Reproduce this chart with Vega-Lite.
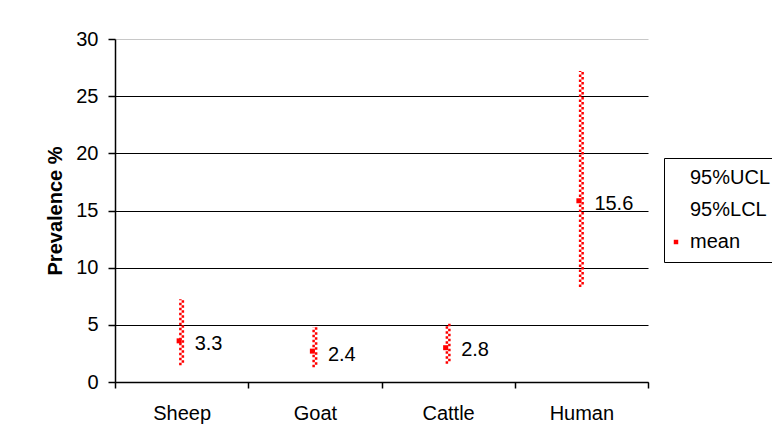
{
  "$schema": "https://vega.github.io/schema/vega-lite/v6.json",
  "width": 533,
  "height": 343,
  "autosize": {"type": "none"},
  "padding": {"left": 115, "top": 39, "right": 124, "bottom": 59},
  "background": "white",
  "config": {
    "font": "Liberation Sans",
    "view": {"stroke": null},
    "axis": {"labelColor": "black", "titleColor": "black", "domainColor": "black", "tickColor": "black", "labelFont": "Liberation Sans", "titleFont": "Liberation Sans"}
  },
  "data": {
    "values": [
      {"animal": "Sheep", "lcl": 1.46, "ucl": 7.24, "mean": 3.6, "label": 3.3},
      {"animal": "Goat", "lcl": 1.3, "ucl": 4.8, "mean": 2.7, "label": 2.4},
      {"animal": "Cattle", "lcl": 1.6, "ucl": 5.1, "mean": 3.0, "label": 2.8},
      {"animal": "Human", "lcl": 8.3, "ucl": 27.2, "mean": 15.85, "label": 15.6}
    ]
  },
  "encoding": {
    "x": {
      "field": "animal",
      "type": "nominal",
      "sort": null,
      "scale": {"paddingInner": 0, "paddingOuter": 0},
      "axis": {
        "title": null,
        "labelAngle": 0,
        "labelFontSize": 20,
        "labelPadding": 15,
        "tickBand": "extent",
        "tickSize": 6,
        "grid": false,
        "domainWidth": 1.5,
        "tickWidth": 1.5
      }
    }
  },
  "layer": [
    {
      "mark": {"type": "rule", "color": "red", "strokeWidth": 2.5, "strokeDash": [2.5, 2.5], "xOffset": -1.25},
      "encoding": {
        "y": {
          "field": "lcl",
          "type": "quantitative",
          "scale": {"domain": [0, 30], "nice": false},
          "axis": {
            "title": "Prevalence %",
            "titleFontSize": 20,
            "titleFontWeight": "bold",
            "titlePadding": 10,
            "values": [0, 5, 10, 15, 20, 25, 30],
            "labelFontSize": 20,
            "labelPadding": 10,
            "tickSize": 7,
            "tickWidth": 1.5,
            "domainWidth": 1.5,
            "grid": true,
            "gridWidth": 1.2,
            "gridColor": {"condition": {"test": "datum.value === 30", "value": "#c8c8c8"}, "value": "black"},
            "gridOpacity": 1
          }
        },
        "y2": {"field": "ucl"}
      }
    },
    {
      "mark": {"type": "rule", "color": "red", "strokeWidth": 2.5, "strokeDash": [2.5, 2.5], "strokeDashOffset": 2.5, "xOffset": 1.25},
      "encoding": {
        "y": {"field": "lcl", "type": "quantitative"},
        "y2": {"field": "ucl"}
      }
    },
    {
      "mark": {"type": "point", "shape": "square", "filled": true, "size": 25, "opacity": 1, "xOffset": -2.5},
      "encoding": {
        "y": {"field": "mean", "type": "quantitative"},
        "color": {
          "datum": "mean",
          "type": "nominal",
          "scale": {"domain": ["95%UCL", "95%LCL", "mean"], "range": ["transparent", "transparent", "red"]},
          "legend": {
            "title": null,
            "orient": "none",
            "legendX": 549,
            "legendY": 119,
            "direction": "vertical",
            "labelFontSize": 20,
            "labelColor": "black",
            "labelFont": "Liberation Sans",
            "labelOffset": 4,
            "symbolOffset": -8,
            "symbolType": "square",
            "symbolSize": 20,
            "symbolStrokeWidth": 0,
            "rowPadding": 12,
            "padding": 10,
            "strokeColor": "black",
            "fillColor": "white"
          }
        }
      }
    },
    {
      "mark": {"type": "text", "align": "left", "baseline": "middle", "dx": 13, "fontSize": 20, "color": "black", "font": "Liberation Sans"},
      "encoding": {
        "y": {"field": "label", "type": "quantitative"},
        "text": {"field": "label", "type": "quantitative", "format": ".1f"}
      }
    }
  ]
}
